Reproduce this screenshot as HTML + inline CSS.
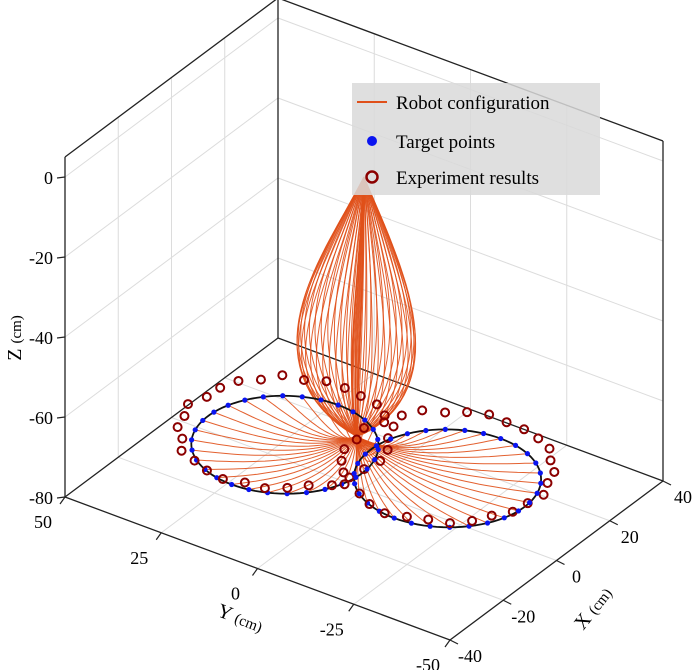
<!DOCTYPE html>
<html><head><meta charset="utf-8">
<style>
html,body{margin:0;padding:0;background:#fff;}
svg{display:block;font-family:"Liberation Serif",serif;}
</style></head>
<body>
<svg id="chart" width="700" height="670" viewBox="0 0 700 670">
<g id="grid"></g>
<g id="box"></g>
<g id="curves"></g>
<g id="circles"></g>
<g id="marks"></g>
<g id="ticks"></g>
<g>
  <rect x="352" y="83" width="248" height="112" fill="#d9d9d9" fill-opacity="0.85"/>
  <line x1="357" y1="102" x2="387" y2="102" stroke="#e0501a" stroke-width="2"/>
  <text x="396" y="109" font-size="19">Robot configuration</text>
  <circle cx="372" cy="141" r="5" fill="#0a14f0"/>
  <text x="396" y="148" font-size="19">Target points</text>
  <circle cx="372" cy="177" r="5.5" fill="none" stroke="#8b0000" stroke-width="2.5"/>
  <text x="396" y="184" font-size="19">Experiment results</text>
</g>
<text transform="translate(21,338) rotate(-90)" text-anchor="middle" font-size="20">Z <tspan font-size="15">(cm)</tspan></text>
<text transform="translate(238,624) rotate(21)" text-anchor="middle" font-size="20">Y <tspan font-size="15">(cm)</tspan></text>
<text transform="translate(598,612) rotate(-52)" text-anchor="middle" font-size="20">X <tspan font-size="15">(cm)</tspan></text>
</svg>
<script>
// ---- data ----
const zTicks = [0, -20, -40, -60, -80];
const yTicks = [50, 25, 0, -25, -50];
const xTicks = [-40, -20, 0, 20, 40];
const circleCenters = [[5, 24], [14, -12]]; // [X, Y]
const circleRadius = 20;
const targetZ = -80;
const targetAngles = [0,12,24,36,48,60,72,84,96,108,120,132,144,156,168,180,192,204,216,228,240,252,264,276,288,300,312,324,336,348];
const expOffsetsLeft = [2.5,3,2,3.5,2.2,3.2,2.8,2,3.6,2.4,3,2.1,3.4,2.6,2.9,3.3,2.2,3.1,2.5,2,3.5,2.7,2.3,3.2,2.9,2.1,3.4,2.6,3,2.3];
const expOffsetsRight = [2.2,3.1,2.6,2,3.4,2.8,2.3,3.5,2.1,3,2.7,2.4,3.3,2,2.9,3.6,2.5,2.2,3.2,2.8,2.1,3,2.6,3.4,2.3,2.9,2.2,3.1,2.7,2.5];
const expZ = -77;
const basePoint = [0, 0, -2];
const convergePoint = [6, 6, -72];
// ---- projection ----
const F=[450,640], eY=[-3.85,-1.43], eX=[2.6625,-1.9875], zs=4;
function P(X,Y,z){return [F[0]+(Y+50)*eY[0]+(X+40)*eX[0], F[1]+(Y+50)*eY[1]+(X+40)*eX[1]-(z+80)*zs];}
const NS="http://www.w3.org/2000/svg";
function el(tag,attrs,parent){const e=document.createElementNS(NS,tag);for(const k in attrs)e.setAttribute(k,attrs[k]);parent.appendChild(e);return e;}
function line(a,b,parent,color,w){return el('line',{x1:a[0],y1:a[1],x2:b[0],y2:b[1],stroke:color,'stroke-width':w},parent);}
const G=document.getElementById('grid'),B=document.getElementById('box'),C=document.getElementById('curves'),CI=document.getElementById('circles'),M=document.getElementById('marks'),T=document.getElementById('ticks');
const gc="#dcdcdc";
for(const x of [-20,0,20]){let g=line(P(x,50,-80),P(x,50,5),G,gc,1);
 g=line(P(x,50,-80),P(x,-50,-80),G,gc,1);}
for(const y of [25,0,-25]){let g=line(P(40,y,-80),P(40,y,5),G,gc,1);
 g=line(P(-40,y,-80),P(40,y,-80),G,gc,1);}
for(const z of [0,-20,-40,-60]){let g=el('polyline',{points:[P(-40,50,z),P(40,50,z),P(40,-50,z)].map(p=>p.join(',')).join(' '),fill:'none',stroke:gc,'stroke-width':1},G);}
const bc="#222";
const edges=[[P(-40,50,-80),P(-40,50,5)],[P(40,50,-80),P(40,50,5)],[P(40,-50,-80),P(40,-50,5)],[P(-40,50,5),P(40,50,5)],[P(40,50,5),P(40,-50,5)],[P(-40,50,-80),P(40,50,-80)],[P(40,50,-80),P(40,-50,-80)],[P(-40,50,-80),P(-40,-50,-80)],[P(-40,-50,-80),P(40,-50,-80)]];
for(const e of edges){const l=line(e[0],e[1],B,bc,1.3);}
for(const z of zTicks){const p=P(-40,50,z);const l=line([p[0]-8,p[1]+1],p,B,bc,1.2);
 const t=el('text',{x:p[0]-12,y:p[1]+7,'text-anchor':'end','font-size':18},T);t.textContent=z;}
for(const y of yTicks){const p=P(-40,y,-80);const l=line(p,[p[0]-5,p[1]+7],B,bc,1.2);
 const t=el('text',{x:p[0]-22,y:p[1]+31,'text-anchor':'middle','font-size':18},T);t.textContent=y;}
for(const x of xTicks){const p=P(x,-50,-80);const l=line(p,[p[0]+8,p[1]+4],B,bc,1.2);
 const t=el('text',{x:p[0]+20,y:p[1]+22,'text-anchor':'middle','font-size':18},T);t.textContent=x;}
function bez(p0,p1,p2,p3,t){const u=1-t;return p0.map((_,i)=>u*u*u*p0[i]+3*u*u*t*p1[i]+3*u*t*t*p2[i]+t*t*t*p3[i]);}
const expSets=[expOffsetsLeft,expOffsetsRight];
circleCenters.forEach((c,ci)=>{
  const pts=[];for(let a=0;a<=360;a+=4){const r=a*Math.PI/180;pts.push(P(c[0]+circleRadius*Math.cos(r),c[1]+circleRadius*Math.sin(r),targetZ));}
  const pl=el('polyline',{points:pts.map(p=>p.join(',')).join(' '),fill:'none',stroke:'#111','stroke-width':1.8},CI);
  
  
  targetAngles.forEach((ang,i)=>{
    const r=ang*Math.PI/180;
    const tgt=[c[0]+circleRadius*Math.cos(r),c[1]+circleRadius*Math.sin(r),targetZ];
    const k=0.62;
    const bx=-k*(tgt[0]-convergePoint[0]), by=-k*(tgt[1]-convergePoint[1]);
    const q=convergePoint;
    const c1=[basePoint[0]+bx*0.4,basePoint[1]+by*0.4,-25], c2=[q[0]+bx*1.0,q[1]+by*1.0,-55];
    const c3=[q[0]-bx*0.5,q[1]-by*0.5,-80], c4=[tgt[0]-(tgt[0]-q[0])*0.3,tgt[1]-(tgt[1]-q[1])*0.3,-80];
    const arr=[];
    for(let s=0;s<=30;s++)arr.push(P(...bez(basePoint,c1,c2,q,s/30)));
    for(let s=1;s<=30;s++)arr.push(P(...bez(q,c3,c4,tgt,s/30)));
    const cv=el('polyline',{points:arr.map(p=>p[0].toFixed(1)+','+p[1].toFixed(1)).join(' '),fill:'none',stroke:'#e0501a','stroke-width':1,'stroke-opacity':0.9},C);
    
    
    const tp=P(...tgt);
    const d=el('circle',{cx:tp[0],cy:tp[1],r:2.6,fill:'#0a14f0'},M);
    
    
    const rr=circleRadius+expSets[ci][i];
    const ep=P(c[0]+rr*Math.cos(r),c[1]+rr*Math.sin(r),expZ);
    const e=el('circle',{cx:ep[0],cy:ep[1],r:4,fill:'none',stroke:'#8b0000','stroke-width':2},M);
    
    
  });
});
</script>
</body></html>
